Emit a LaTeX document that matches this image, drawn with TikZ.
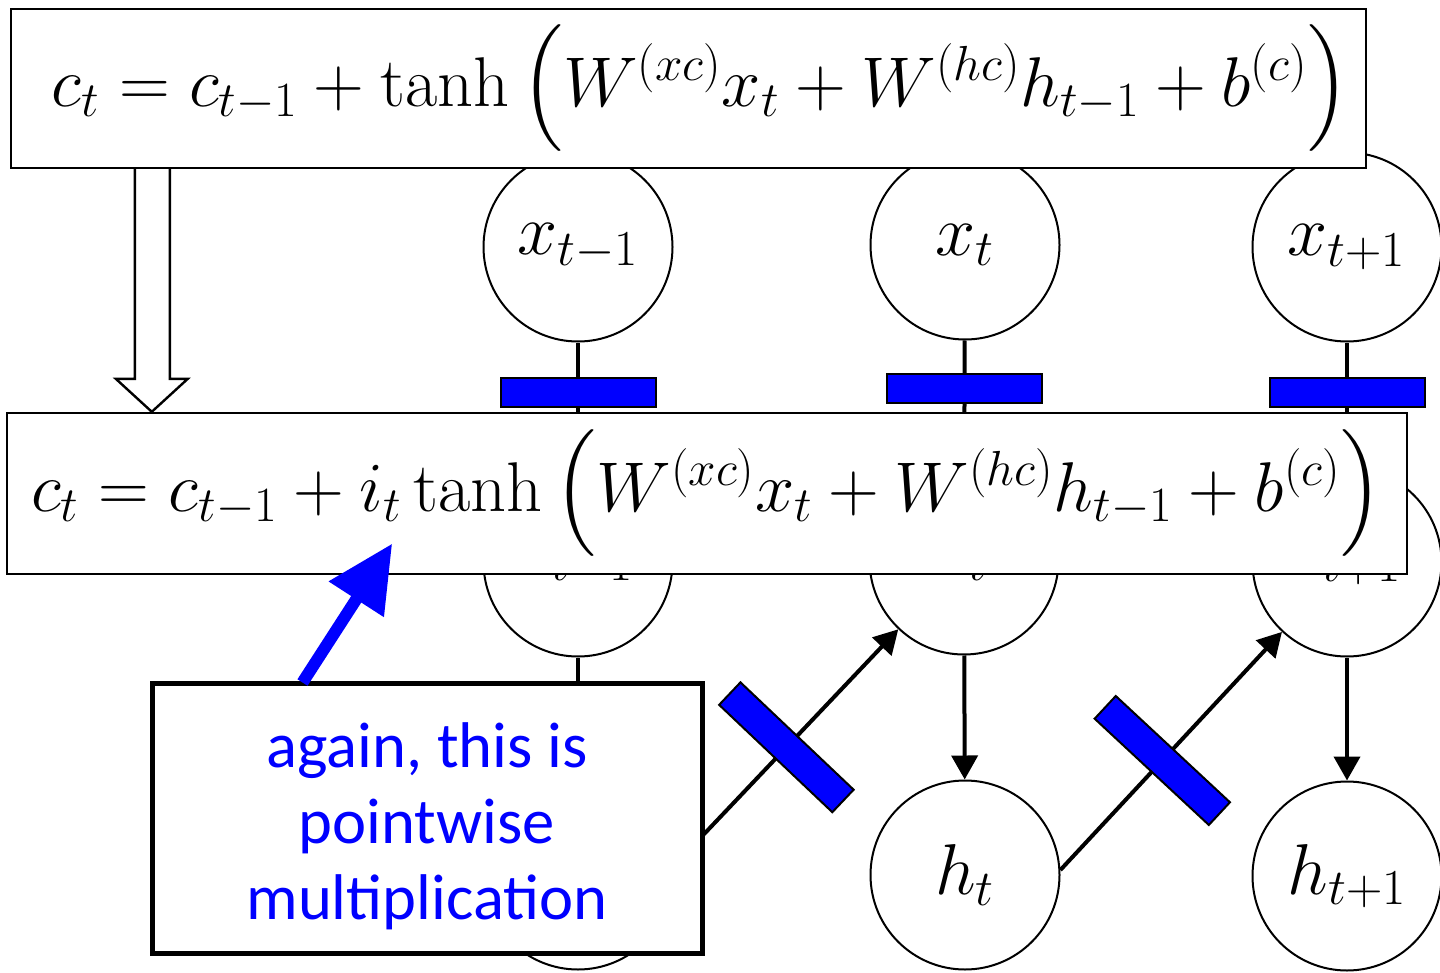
\documentclass[tikz,border=0pt]{standalone}
\usepackage{fix-cm}
\usepackage{fontspec}
\DeclareFontShape{OMX}{cmex}{m}{n}{<-7.5> cmex7 <7.5-8.5> cmex8 <8.5-9.5> cmex9 <9.5-> cmex10}{}
\newfontfamily\calloutfont{Carlito}
\usetikzlibrary{arrows.meta,calc}
\definecolor{gateblue}{RGB}{0,0,255}
\newcommand{\tallstrut}{\vrule height 37pt depth 20pt width 0pt}
\begin{document}
\begin{tikzpicture}[x=0.5pt,y=-0.5pt,
  labelfont/.style={font=\fontsize{36}{43}\selectfont},
  eqfont/.style={font=\fontsize{35.2}{42}\selectfont},
  unit/.style={circle, draw, line width=1pt, minimum size=94.5pt, inner sep=0pt, fill=white, labelfont},
  conn/.style={draw, line width=2pt},
  tip/.style={-{Triangle[length=12pt,width=13pt]}},
  gate/.style={draw, line width=1pt, fill=gateblue, minimum width=77.5pt, minimum height=14.5pt, inner sep=0pt},
  dgate/.style={draw, line width=1pt, fill=gateblue, sloped, minimum width=15.5pt, minimum height=78pt, inner sep=0pt},
  eqbox/.style={draw, line width=1.2pt, fill=white, inner sep=0pt, eqfont},
  hollow/.style={draw, line width=1.2pt, fill=white, line join=miter},
  notebox/.style={draw, line width=2.5pt, fill=white, inner sep=0pt},
  notetext/.style={align=center, text=gateblue, inner sep=0pt,
     font=\calloutfont\fontsize{32.3}{38}\selectfont}
]
\useasboundingbox (0,0) rectangle (1440,973);

% units
\node[unit] (x1) at (578,247) {$x_{t-1}$};
\node[unit] (x2) at (965,245) {$x_t$};
\node[unit] (x3) at (1347,247) {$x_{t+1}$};
\node[unit] (c1) at (578,562) {$c_{t-1}$};
\node[unit] (c2) at (964,560) {$c_t$};
\node[unit] (c3) at (1347,562) {$c_{t+1}$};
\node[unit] (h1) at (578,875) {$h_{t-1}$};
\node[unit] (h2) at (965,875) {$h_t$};
\node[unit] (h3) at (1347,876) {$h_{t+1}$};

% connectors
\draw[conn] (x1) -- node[gate, pos=0.4] {} (c1);
\draw[conn] (x2) -- node[gate, pos=0.39] {} (c2);
\draw[conn] (x3) -- node[gate, pos=0.4] {} (c3);
\draw[conn, tip] (c1) -- (h1);
\draw[conn, tip] (c2) -- (h2);
\draw[conn, tip] (c3) -- (h3);
\draw[conn, tip] (h1.5) -- node[dgate, pos=0.503] {} (c2);
\draw[conn, tip] (h2.3) -- node[dgate, pos=0.46] {} (c3);

% equation boxes
\node[eqbox, minimum width=677.5pt, minimum height=79.5pt] (eq1) at (688.5,88.5)
  {$\kern12pt c_t = c_{t-1} + \tanh\left(\tallstrut W^{(xc)}x_t + W^{(hc)}h_{t-1} + b^{(c)}\right)$};
\node[eqbox, minimum width=700pt, minimum height=80.5pt] (eq2) at (707,493.5)
  {$c_t = c_{t-1} + i_t \tanh\left(\tallstrut W^{(xc)}x_t + W^{(hc)}h_{t-1} + b^{(c)}\right)$};

% hollow arrow from eq1 to eq2
\coordinate (ha1) at ($(eq1.south west)+(125,0)$);
\coordinate (ha2) at ($(eq1.south west)+(160,0)$);
\coordinate (hat) at ($(eq2.north west)+(146,0)$);
\draw[hollow] (ha1) -- ($(hat)+(-17,-33)$) -- ($(hat)+(-36,-33)$) -- (hat)
  -- ($(hat)+(36,-33)$) -- ($(hat)+(18,-33)$) -- (ha2);

% callout
\node[notebox, minimum width=275pt, minimum height=135pt] (note) at (427,818) {};
\node[notetext] (notetxt) at ($(note.center)+(0,8)$)
  {again, this is\\pointwise\\multiplication};

% blue pointer arrow
\coordinate (ptail) at ($(note.north west)+(153,2)$);
\coordinate (ptip) at ($(eq2.south west)+(386,-31)$);
\draw[gateblue, line width=6pt] (ptail) -- ($(ptip)!30pt!(ptail)$);
\fill[gateblue] (ptip) -- ($(ptip)!36.7pt!26.7:(ptail)$) -- ($(ptip)!36.7pt!-26.7:(ptail)$) -- cycle;
\end{tikzpicture}
\end{document}
